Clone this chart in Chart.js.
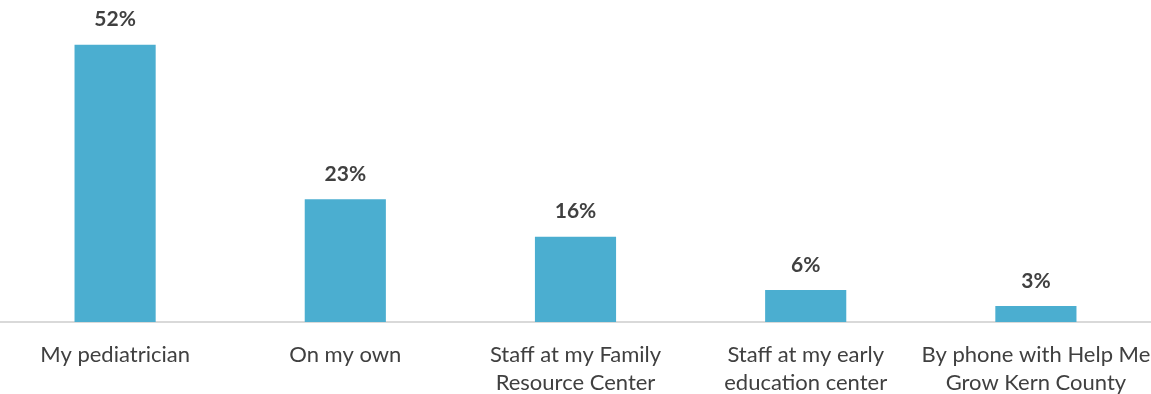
<!DOCTYPE html>
<html>
<head>
<meta charset="utf-8">
<script src="https://cdn.jsdelivr.net/npm/chart.js@4"></script>
<style>
  html, body { margin: 0; padding: 0; background: #fff; overflow: hidden; }
</style>
</head>
<body>
<canvas id="myChart" width="1151" height="394"></canvas>
<script>
const categories = [
  "My pediatrician",
  "On my own",
  ["Staff at my Family", "Resource Center"],
  ["Staff at my early", "education center"],
  ["By phone with Help Me", "Grow Kern County"],
];
const values = [52, 23, 16, 6, 3];

const FONT = "Lato, 'Open Sans', sans-serif";

// percentage labels above each bar
const valueLabels = {
  id: "valueLabels",
  afterDatasetsDraw(chart) {
    const ctx = chart.ctx;
    const meta = chart.getDatasetMeta(0);
    ctx.save();
    ctx.font = "bold 21px " + FONT;
    ctx.fillStyle = "#404040";
    ctx.textAlign = "center";
    ctx.textBaseline = "middle";
    meta.data.forEach((bar, i) => {
      ctx.fillText(values[i] + "%", bar.x, bar.y - 25);
    });
    ctx.restore();
  },
};

const ctx = document.getElementById("myChart");
const chart = new Chart(ctx, {
  type: "bar",
  data: {
    labels: categories,
    datasets: [
      {
        data: values,
        backgroundColor: "#4baed0",
        borderWidth: 0,
        barPercentage: 0.705,
        categoryPercentage: 0.5,
      },
    ],
  },
  plugins: [valueLabels],
  options: {
    responsive: false,
    animation: false,
    layout: {
      padding: { top: 2, left: 0, right: 0, bottom: 0 },
    },
    plugins: {
      legend: { display: false },
      tooltip: { enabled: false },
    },
    scales: {
      x: {
        grid: { display: false, drawTicks: false },
        border: { display: true, color: "#d9d9d9", width: 2 },
        afterFit(scale) {
          scale.height = 72;
          scale.paddingLeft = 0;
          scale.paddingRight = 0;
        },
        ticks: {
          color: "#404040",
          font: { family: FONT, size: 22, lineHeight: 1.27 },
          padding: 19,
          maxRotation: 0,
          autoSkip: false,
        },
      },
      y: {
        display: false,
        min: 0,
        max: 60,
      },
    },
  },
});
</script>
</body>
</html>
